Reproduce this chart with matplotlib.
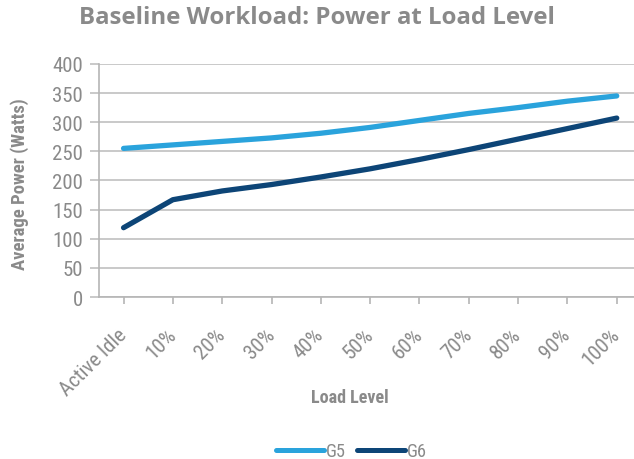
import matplotlib
matplotlib.use("Agg")
import matplotlib.pyplot as plt
from matplotlib import font_manager
import matplotlib.transforms as mtransforms

categories = ["Active Idle", "10%", "20%", "30%", "40%", "50%", "60%", "70%", "80%", "90%", "100%"]
g5 = [255, 261, 267, 273, 281, 291, 303, 315, 325, 336, 345]
g6 = [119, 167, 182, 193, 206, 220, 236, 253, 271, 289, 307]
yticks = [0, 50, 100, 150, 200, 250, 300, 350, 400]

names = {f.name for f in font_manager.fontManager.ttflist}
cands = ["Roboto Condensed", "Liberation Sans Narrow", "DejaVu Sans Condensed", "Roboto"]
fam = next((c for c in cands if c in names), "DejaVu Sans")
title_fam = "Open Sans" if "Open Sans" in names else "DejaVu Sans"
plt.rcParams['font.family'] = [fam, 'DejaVu Sans']

gray = "#8a8a8a"
fig = plt.figure(figsize=(6.34, 4.6), dpi=100)
ax = fig.add_axes([0.156, 0.352, 0.844, 0.507])
x = list(range(len(categories)))
ax.plot(x, g5, color="#2aa3dc", lw=3.8, solid_capstyle="round", label="G5")
ax.plot(x, g6, color="#0d4577", lw=3.8, solid_capstyle="round", label="G6")
ax.set_ylim(0, 400)
ax.set_xlim(-0.5, 10.35)
ax.set_yticks(yticks)
ax.set_xticks(x)
ax.set_xticklabels(categories, rotation=45, ha="right", va="center", rotation_mode="anchor",
                   fontsize=15, color=gray)
off = mtransforms.ScaledTranslation(-1 / 72, 0, fig.dpi_scale_trans)
for lab in ax.get_xticklabels():
    lab.set_transform(lab.get_transform() + off)
ax.set_yticklabels([str(v) for v in yticks], fontsize=15, color=gray)
ax.grid(axis="y", color="#c0c0c0", lw=1.2)
ax.set_axisbelow(True)
for s in ["top", "right"]:
    ax.spines[s].set_visible(False)
for s in ["left", "bottom"]:
    ax.spines[s].set_color("#b5b5b5")
    ax.spines[s].set_linewidth(1.2)
ax.tick_params(axis="y", length=6.5, color="#c0c0c0", width=1.2, pad=5)
ax.tick_params(axis="x", length=5, color="#b5b5b5", width=1.2, pad=19.5)
ax.set_xlabel("Load Level", fontsize=13, fontweight="bold", color=gray, va="center")
ax.xaxis.set_label_coords(0.469, -0.429)
ax.set_ylabel("Average Power (Watts)", fontsize=13.4, fontweight="bold", color=gray, va="center")
ax.yaxis.set_label_coords(-0.148, 0.49)
fig.text(0.5, 0.96, "Baseline Workload: Power at Load Level", ha="center", va="center",
         fontsize=17.3, fontweight="bold", color=gray, family=[title_fam, 'DejaVu Sans'])
leg = fig.legend(loc="center", bbox_to_anchor=(0.554, 0.017), ncol=2, frameon=False,
                 fontsize=13.3, handlelength=2.6, columnspacing=0.6, handletextpad=0.1,
                 borderaxespad=0, borderpad=0)
for t in leg.get_texts():
    t.set_color(gray)
for h in leg.get_lines():
    h.set_linewidth(3.6)
fig.savefig("out.png", dpi=100)
